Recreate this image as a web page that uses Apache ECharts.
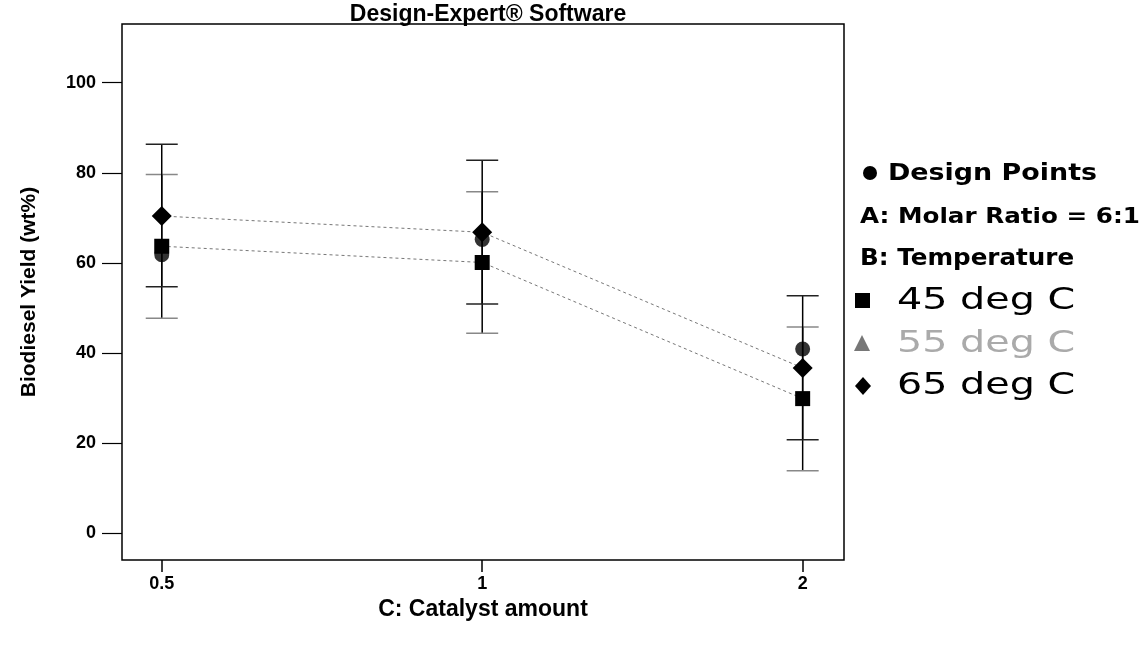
<!DOCTYPE html>
<html>
<head>
<meta charset="utf-8">
<script src="https://cdn.jsdelivr.net/npm/echarts@6/dist/echarts.min.js"></script>
<style>
html,body{margin:0;padding:0;background:#fff;}
#c{width:1146px;height:653px;}
</style>
</head>
<body>
<div id="c"></div>
<script>
// ---- data ----
const categories = ['0.5', '1', '2'];           // C: Catalyst amount
const yTicks = [0, 20, 40, 60, 80, 100];
const temp45 = [63.7, 60.1, 29.9];              // B = 45 deg C
const temp65 = [70.4, 66.8, 36.7];              // B = 65 deg C
const bar45Low = [47.7, 44.4, 13.9];
const bar45High = [79.6, 75.8, 45.8];
const bar65Low = [54.7, 50.9, 20.8];
const bar65High = [86.3, 82.8, 52.7];
const designPoints = [61.8, 65.2, 40.9];

const FONT = '"Liberation Sans", Arial, sans-serif';
const LFONT = '"DejaVu Sans", sans-serif';
const idx = categories.map((_, i) => i);

function errData(lo, hi) { return idx.map(i => [i, lo[i], hi[i]]); }
function errRender(capColor) {
  return function (params, api) {
    const x = api.value(0);
    const p1 = api.coord([x, api.value(1)]);
    const p2 = api.coord([x, api.value(2)]);
    const hw = 16;
    return {
      type: 'group',
      children: [
        { type: 'line', shape: { x1: p1[0], y1: p1[1], x2: p2[0], y2: p2[1] }, style: { stroke: '#000', lineWidth: 1.5 } },
        { type: 'line', shape: { x1: p1[0] - hw, y1: p1[1], x2: p1[0] + hw, y2: p1[1] }, style: { stroke: capColor, lineWidth: 1.5 } },
        { type: 'line', shape: { x1: p2[0] - hw, y1: p2[1], x2: p2[0] + hw, y2: p2[1] }, style: { stroke: capColor, lineWidth: 1.5 } }
      ]
    };
  };
}

function legText(txt, x, y, font, color, sx) {
  return { type: 'text', x: x, y: y, scaleX: sx, originX: 0, style: { text: txt, font: font, fill: color, verticalAlign: 'middle', align: 'left' } };
}

const chart = echarts.init(document.getElementById('c'), null, { renderer: 'canvas' });
chart.setOption({
  animation: false,
  backgroundColor: '#fff',
  title: {
    text: 'Design-Expert® Software',
    left: 483, top: -2, textAlign: 'center',
    textStyle: { fontFamily: FONT, fontWeight: 'bold', fontSize: 23, color: '#000' }
  },
  grid: { left: 122, right: 302, top: 24, bottom: 93, show: true, borderColor: '#000', borderWidth: 1.5, backgroundColor: 'transparent' },
  xAxis: {
    type: 'value', min: -0.124, max: 2.129,
    name: 'C: Catalyst amount', nameLocation: 'middle', nameGap: 38,
    nameTextStyle: { fontFamily: FONT, fontWeight: 'bold', fontSize: 23, color: '#000' },
    axisLine: { show: false, onZero: false },
    splitLine: { show: false },
    axisTick: { show: true, inside: false, length: 12, customValues: idx, lineStyle: { color: '#000', width: 1.5 } },
    axisLabel: { customValues: idx, formatter: v => categories[Math.round(v)], margin: 15, fontFamily: FONT, fontWeight: 'bold', fontSize: 18, color: '#000' }
  },
  yAxis: {
    type: 'value', min: -5.9, max: 113.0,
    name: 'Biodiesel Yield (wt%)', nameLocation: 'middle', nameGap: 82, nameRotate: 90,
    nameTextStyle: { fontFamily: FONT, fontWeight: 'bold', fontSize: 21, color: '#000' },
    axisLine: { show: false, onZero: false },
    splitLine: { show: false },
    axisTick: { show: true, inside: false, length: 20, customValues: yTicks, lineStyle: { color: '#000', width: 1.2 } },
    axisLabel: { customValues: yTicks, margin: 26, fontFamily: FONT, fontWeight: 'bold', fontSize: 18, color: '#000' }
  },
  series: [
    { type: 'custom', name: 'LSD 45', renderItem: errRender('#888'), data: errData(bar45Low, bar45High), z: 1 },
    { type: 'custom', name: 'LSD 65', renderItem: errRender('#222'), data: errData(bar65Low, bar65High), z: 1 },
    {
      type: 'line', name: '45 deg C', data: idx.map(i => [i, temp45[i]]),
      symbol: 'rect', symbolSize: 15, itemStyle: { color: '#000' },
      lineStyle: { color: '#777', width: 1, type: [3, 3] }, z: 3
    },
    {
      type: 'line', name: '65 deg C', data: idx.map(i => [i, temp65[i]]),
      symbol: 'diamond', symbolSize: 20, itemStyle: { color: '#000' },
      lineStyle: { color: '#777', width: 1, type: [3, 3] }, z: 3
    },
    {
      type: 'scatter', name: 'Design Points', data: idx.map(i => [i, designPoints[i]]),
      symbol: 'circle', symbolSize: 15, itemStyle: { color: '#000' }, z: 4
    }
  ],
  graphic: [
    { type: 'circle', shape: { cx: 870, cy: 173, r: 7 }, style: { fill: '#000' } },
    legText('Design Points', 888, 174, 'bold 23px ' + LFONT, '#000', 1.17),
    legText('A: Molar Ratio = 6:1', 860, 217, 'bold 22px ' + LFONT, '#000', 1.12),
    legText('B: Temperature', 860, 259, 'bold 23px ' + LFONT, '#000', 1.07),
    { type: 'rect', shape: { x: 855, y: 293, width: 15, height: 15 }, style: { fill: '#000' } },
    legText('45 deg C', 897, 301, '31px ' + LFONT, '#000', 1.28),
    { type: 'polygon', shape: { points: [[862, 335], [854, 351], [870, 351]] }, style: { fill: '#777' } },
    legText('55 deg C', 897, 344, '31px ' + LFONT, '#aaa', 1.28),
    { type: 'polygon', shape: { points: [[863, 377], [871, 386], [863, 395], [855, 386]] }, style: { fill: '#000' } },
    legText('65 deg C', 897, 386, '31px ' + LFONT, '#000', 1.28)
  ]
});
</script>
</body>
</html>
